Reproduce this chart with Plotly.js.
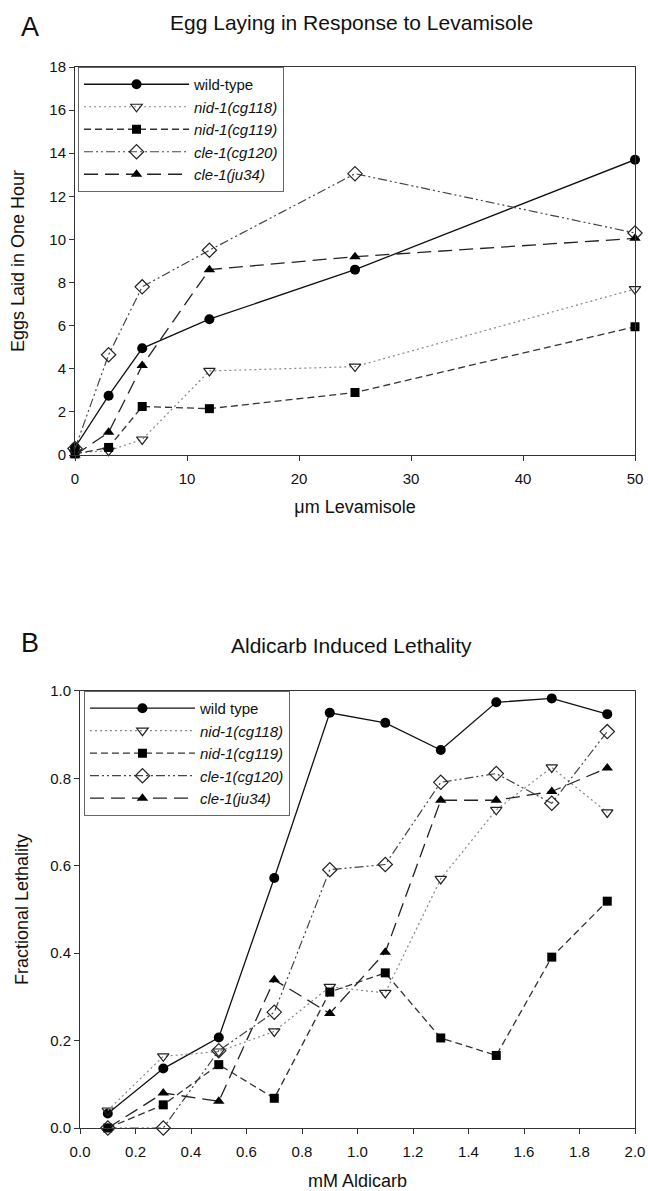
<!DOCTYPE html>
<html>
<head>
<meta charset="utf-8">
<script src="https://cdn.plot.ly/plotly-3.0.1.min.js"></script>
<style>html,body{margin:0;padding:0;background:#fff;}#chart{width:648px;height:1191px;}</style>
</head>
<body>
<div id="chart"></div>
<script>
// ---- Panel A: Egg laying vs levamisole ----
var levDose = [0, 3, 6, 12, 25, 50];
var levWildType = [0.35, 2.75, 4.95, 6.3, 8.6, 13.7];
var levNid118 = [0.1, 0.2, 0.72, 3.9, 4.1, 7.7];
var levNid119 = [0.05, 0.35, 2.25, 2.15, 2.9, 5.95];
var levCle120 = [0.3, 4.65, 7.8, 9.5, 13.05, 10.3];
var levCleJu34 = [0.0, 1.05, 4.15, 8.6, 9.2, 10.05];

// ---- Panel B: Aldicarb induced lethality ----
var aldDose = [0.1, 0.3, 0.5, 0.7, 0.9, 1.1, 1.3, 1.5, 1.7, 1.9];
var aldWildType = [0.033, 0.136, 0.207, 0.572, 0.95, 0.927, 0.865, 0.974, 0.983, 0.947];
var aldNid118 = [0.04, 0.164, 0.175, 0.221, 0.323, 0.309, 0.57, 0.728, 0.825, 0.722];
var aldNid119 = [0.0, 0.053, 0.145, 0.068, 0.311, 0.355, 0.206, 0.166, 0.391, 0.519];
var aldCle120 = [0.0, 0.0, 0.177, 0.265, 0.591, 0.603, 0.791, 0.811, 0.743, 0.907];
var aldCleJu34 = [0.0, 0.08, 0.061, 0.339, 0.262, 0.402, 0.75, 0.75, 0.77, 0.824];

var namesA = ['wild-type', '<i>nid-1(cg118)</i>', '<i>nid-1(cg119)</i>', '<i>cle-1(cg120)</i>', '<i>cle-1(ju34)</i>'];
var namesB = ['wild type', '<i>nid-1(cg118)</i>', '<i>nid-1(cg119)</i>', '<i>cle-1(cg120)</i>', '<i>cle-1(ju34)</i>'];

var styles = [
  {line: {color: '#111', width: 1.3, dash: 'solid'}, marker: {symbol: 'circle', size: 10, color: '#000'}},
  {line: {color: '#888', width: 1.2, dash: '2px,3px'}, marker: {symbol: 'triangle-down-open', size: 10, color: '#222', line: {width: 1.2}}},
  {line: {color: '#333', width: 1.3, dash: '7px,4px'}, marker: {symbol: 'square', size: 9, color: '#000'}},
  {line: {color: '#444', width: 1.2, dash: '9px,3px,2px,3px,2px,3px'}, marker: {symbol: 'diamond-open', size: 11, color: '#222', line: {width: 1.2}}},
  {line: {color: '#222', width: 1.3, dash: '14px,7px'}, marker: {symbol: 'triangle-up', size: 10, color: '#000'}}
];

var seriesA = [levWildType, levNid118, levNid119, levCle120, levCleJu34];
var seriesB = [aldWildType, aldNid118, aldNid119, aldCle120, aldCleJu34];

var data = [];
seriesA.forEach(function (ys, i) {
  data.push({
    x: levDose, y: ys, name: namesA[i], type: 'scatter', mode: 'lines+markers',
    line: styles[i].line, marker: styles[i].marker, cliponaxis: false,
    xaxis: 'x', yaxis: 'y', legend: 'legend'
  });
});
seriesB.forEach(function (ys, i) {
  data.push({
    x: aldDose, y: ys, name: namesB[i], type: 'scatter', mode: 'lines+markers',
    line: styles[i].line, marker: styles[i].marker, cliponaxis: false,
    xaxis: 'x2', yaxis: 'y2', legend: 'legend2'
  });
});

var FONT = 'Liberation Sans, Arial, Helvetica, sans-serif';
var axisCommon = {
  showgrid: false, zeroline: false, showline: true, linecolor: '#333', linewidth: 1,
  mirror: true, ticks: 'outside', ticklen: 5, tickwidth: 1, tickcolor: '#333',
  tickfont: {family: FONT, size: 15, color: '#111'}
};
function ax(extra) { return Object.assign({}, axisCommon, extra); }

var legendCommon = {
  bgcolor: '#fff', bordercolor: '#666', borderwidth: 1,
  font: {family: FONT, size: 15, color: '#111'},
  itemwidth: 105, tracegroupgap: 0, xanchor: 'left', yanchor: 'top'
};

var layout = {
  width: 648, height: 1191,
  margin: {l: 75, r: 13, t: 67, b: 63},
  paper_bgcolor: '#fff', plot_bgcolor: '#fff',
  font: {family: FONT, color: '#111'},
  showlegend: true,
  xaxis: ax({domain: [0, 1], range: [0, 50], tickvals: [0, 10, 20, 30, 40, 50], anchor: 'y',
    ticklabelstandoff: 5,
    title: {text: '\u03bcm Levamisole', font: {family: FONT, size: 18}, standoff: 14}}),
  yaxis: ax({domain: [0.6343, 1], range: [0, 18], dtick: 2, anchor: 'x',
    title: {text: 'Eggs Laid in One Hour', font: {family: FONT, size: 18}, standoff: 20}}),
  xaxis2: ax({domain: [0.009, 1], range: [0, 2.0], dtick: 0.2, tickformat: '.1f', anchor: 'y2',
    ticklabelstandoff: 5,
    title: {text: 'mM Aldicarb', font: {family: FONT, size: 18}, standoff: 16}}),
  yaxis2: ax({domain: [0, 0.4119], range: [0, 1.0], dtick: 0.2, tickformat: '.1f', anchor: 'x2',
    title: {text: 'Fractional Lethality', font: {family: FONT, size: 18}, standoff: 16}}),
  legend: Object.assign({}, legendCommon, {x: 0.0054, y: 1}),
  legend2: Object.assign({}, legendCommon, {x: 0.016, y: 0.4119}),
  annotations: [
    {text: 'A', xref: 'paper', yref: 'paper', x: -0.08, y: 1.0377, showarrow: false,
      font: {family: FONT, size: 27, color: '#111'}, xanchor: 'center', yanchor: 'middle'},
    {text: 'Egg Laying in Response to Levamisole', xref: 'paper', yref: 'paper', x: 0.4946, y: 1.0424,
      showarrow: false, font: {family: FONT, size: 21, color: '#111'}, xanchor: 'center', yanchor: 'middle'},
    {text: 'B', xref: 'paper', yref: 'paper', x: -0.08, y: 0.4571, showarrow: false,
      font: {family: FONT, size: 27, color: '#111'}, xanchor: 'center', yanchor: 'middle'},
    {text: 'Aldicarb Induced Lethality', xref: 'paper', yref: 'paper', x: 0.4946, y: 0.4552,
      showarrow: false, font: {family: FONT, size: 21, color: '#111'}, xanchor: 'center', yanchor: 'middle'}
  ]
};

Plotly.newPlot('chart', data, layout, {displayModeBar: false, staticPlot: true});
</script>
</body>
</html>
